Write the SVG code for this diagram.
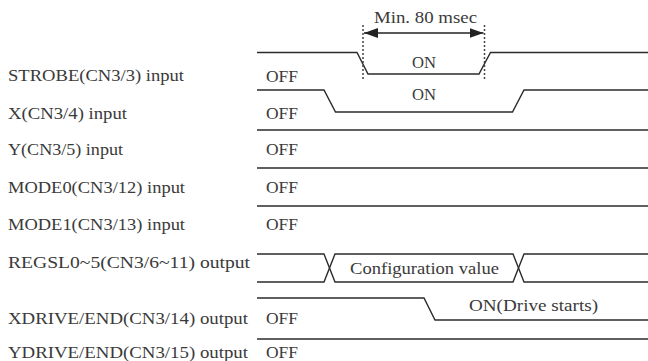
<svg xmlns="http://www.w3.org/2000/svg" width="648" height="361" viewBox="0 0 648 361">
<style>
text{font-family:"Liberation Serif","DejaVu Serif",serif;font-size:16.5px;fill:#3a3a3a}
.sig{fill:none;stroke:#2b2b2b;stroke-width:1.4}
.dot{fill:none;stroke:#444;stroke-width:1.5;stroke-dasharray:2,2}
.dim{fill:none;stroke:#222;stroke-width:1.3}
</style>
<defs>
<marker id="ah" viewBox="0 0 14 10" refX="14" refY="5" markerWidth="14" markerHeight="10" markerUnits="userSpaceOnUse" orient="auto-start-reverse">
<path d="M0,0 L14,5 L0,10 Z" fill="#222"/>
</marker>
</defs>
<rect width="648" height="361" fill="#fff"/>
<g id="labels">
<text x="8" y="81" textLength="176" lengthAdjust="spacingAndGlyphs">STROBE(CN3/3) input</text>
<text x="8" y="118.5" textLength="119" lengthAdjust="spacingAndGlyphs">X(CN3/4) input</text>
<text x="8" y="155" textLength="115" lengthAdjust="spacingAndGlyphs">Y(CN3/5) input</text>
<text x="8" y="192.5" textLength="177" lengthAdjust="spacingAndGlyphs">MODE0(CN3/12) input</text>
<text x="8" y="229.5" textLength="177" lengthAdjust="spacingAndGlyphs">MODE1(CN3/13) input</text>
<text x="8" y="267.5" textLength="242" lengthAdjust="spacingAndGlyphs">REGSL0~5(CN3/6~11) output</text>
<text x="8" y="323.5" textLength="240" lengthAdjust="spacingAndGlyphs">XDRIVE/END(CN3/14) output</text>
<text x="8" y="358" textLength="240" lengthAdjust="spacingAndGlyphs">YDRIVE/END(CN3/15) output</text>
</g>
<g id="connectors">
<path class="sig" d="M257,52.5 H357 L368,74 H479 L490.5,52.5 H648"/>
<path class="sig" d="M257,90 H324 L335.5,112 H512.5 L524,90 H648"/>
<path class="sig" d="M257,130 H648"/>
<path class="sig" d="M257,168 H648"/>
<path class="sig" d="M257,206 H648"/>
<path class="sig" d="M257,254 H324 L335,282 H513 L524,254 H648"/>
<path class="sig" d="M257,282 H324 L335,254 H513 L524,282 H648"/>
<path class="sig" d="M257,298 H424 L435,320 H648"/>
<path class="sig" d="M257,339 H648"/>
<path class="dot" d="M363,25 V81"/>
<path class="dot" d="M484.5,25 V81"/>
<path class="dim" d="M364,33 H483.5" marker-start="url(#ah)" marker-end="url(#ah)"/>
</g>
<g id="strobe">
<text x="266" y="81.5" textLength="32" lengthAdjust="spacingAndGlyphs">OFF</text>
<text x="412" y="68" textLength="24" lengthAdjust="spacingAndGlyphs">ON</text>
<text x="374" y="22.5" textLength="103" lengthAdjust="spacingAndGlyphs">Min. 80 msec</text>
</g>
<g id="x">
<text x="266" y="118.5" textLength="32" lengthAdjust="spacingAndGlyphs">OFF</text>
<text x="412" y="99.5" textLength="24" lengthAdjust="spacingAndGlyphs">ON</text>
</g>
<g id="y"><text x="266" y="155" textLength="32" lengthAdjust="spacingAndGlyphs">OFF</text></g>
<g id="mode0"><text x="266" y="192.5" textLength="32" lengthAdjust="spacingAndGlyphs">OFF</text></g>
<g id="mode1"><text x="266" y="229.5" textLength="32" lengthAdjust="spacingAndGlyphs">OFF</text></g>
<g id="regsl"><text x="350" y="273.5" textLength="149" lengthAdjust="spacingAndGlyphs">Configuration value</text></g>
<g id="xdrive">
<text x="266" y="323.5" textLength="32" lengthAdjust="spacingAndGlyphs">OFF</text>
<text x="469" y="311" textLength="129" lengthAdjust="spacingAndGlyphs">ON(Drive starts)</text>
</g>
<g id="ydrive"><text x="266" y="358" textLength="32" lengthAdjust="spacingAndGlyphs">OFF</text></g>
</svg>
